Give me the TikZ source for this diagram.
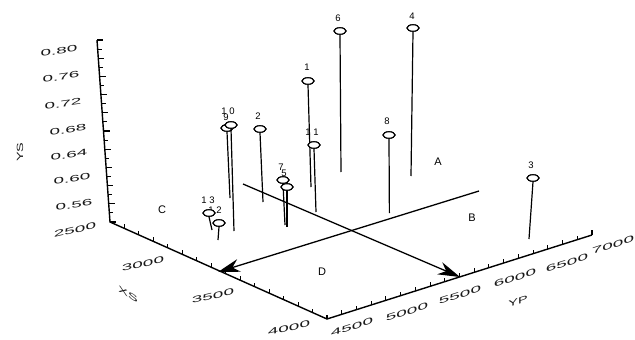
\documentclass[tikz,border=0pt]{standalone}
\usepackage{fontspec}
\setmainfont{Liberation Sans}
\newfontfamily\widefont[FakeStretch=2.1]{Liberation Sans}
\newfontfamily\axtitfont[FakeStretch=1.6]{Liberation Sans}
\usetikzlibrary{arrows.meta,shapes.geometric,calc}
\begin{document}
\begin{tikzpicture}[x=1pt,y=-1pt,
  axis/.style={line width=1.4pt},
  tk/.style={line width=1.1pt},
  stem/.style={line width=1.2pt},
  pin/.style={ellipse,draw,line width=1.1pt,fill=white,minimum width=12pt,minimum height=6.5pt,inner sep=0pt},
  num/.style={font=\fontsize{9.5}{9.5}\selectfont,inner sep=0pt},
  reg/.style={font=\fontsize{11}{11}\selectfont,inner sep=0pt},
  ticklab/.style={font=\widefont\fontsize{9}{9}\selectfont,inner sep=0pt,text=black!90},
  axtitle/.style={font=\axtitfont\fontsize{9}{9}\selectfont,inner sep=0pt,text=black!90},
  arr/.style={line width=1.3pt,-{Stealth[length=22pt,width=13pt,inset=7pt]}}
]
\useasboundingbox (0,0) rectangle (635,340);
% axes
\coordinate (zt) at (97,40);
\coordinate (o) at (110,222);
\coordinate (c) at (327,319);
\coordinate (r) at (592,235);
\draw[axis] (zt) -- (o) -- (c) -- (r);
\foreach \i in {0,...,20}{
  \pgfmathsetmacro{\len}{ifthenelse(mod(\i,2)==0,6,4)}
  \draw[tk] ($(zt)!\i/20!(o)$) -- ++(\len,0);
}
\foreach \i in {1,...,15}{
  \draw[tk] ($(o)!\i/15!(c)$) -- ++(0,-4);
}
\foreach \i in {1,...,18}{
  \draw[tk] ($(c)!\i/18!(r)$) -- ++(0,-4);
}
\draw[tk] (r) -- ++(0,-5);
% z labels
\node[ticklab,yslant=0.14] (z80) at (59,51) {0.80};
\node[ticklab,yslant=0.14] (z76) at (61,77) {0.76};
\node[ticklab,yslant=0.14] (z72) at (63,104) {0.72};
\node[ticklab,yslant=0.14] (z68) at (68,130) {0.68};
\node[ticklab,yslant=0.14] (z64) at (69,155) {0.64};
\node[ticklab,yslant=0.14] (z60) at (72,179) {0.60};
\node[ticklab,yslant=0.14] (z56) at (74,205) {0.56};
\node[axtitle,rotate=90] (zt1) at (20,152) {YS};
% left axis labels
\node[ticklab,yslant=0.23] (x1) at (75,230) {2500};
\node[ticklab,yslant=0.23] (x2) at (143,264) {3000};
\node[ticklab,yslant=0.23] (x3) at (213,296) {3500};
\node[ticklab,yslant=0.23] (x4) at (289,328) {4000};
\node[axtitle,yslant=-0.6] (xt) at (128,294) {XS};
% right axis labels
\node[ticklab,yslant=0.32] (y1) at (352,327) {4500};
\node[ticklab,yslant=0.32] (y2) at (407,312) {5000};
\node[ticklab,yslant=0.32] (y3) at (460,295) {5500};
\node[ticklab,yslant=0.32] (y4) at (515,278) {6000};
\node[ticklab,yslant=0.32] (y5) at (567,263) {6500};
\node[ticklab,yslant=0.32] (y6) at (613,245) {7000};
\node[axtitle,yslant=0.32] (yt) at (518,301) {YP};
% region lines
\coordinate (s1) at (243,184);
\coordinate (e1) at (460,277);
\coordinate (s2) at (479,191);
\coordinate (e2) at (218,272);
\draw[arr] (s1) -- (e1);
\draw[arr] (s2) -- (e2);
\node[reg] (A) at (438,162) {A};
\node[reg] (B) at (472,218) {B};
\node[reg] (C) at (162,210) {C};
\node[reg] (D) at (322,272) {D};
% pins
\foreach \n/\lab/\ex/\ey/\bx/\by/\lx/\ly in {
  6/6/340/31/341/172/338/18,
  4/4/413/28/411/176/412/16,
  1/1/308/81/311/187/307/67,
  11/1 1/314/145/316/212/312/132,
  8/8/389/135/389.4/213/387/121,
  3/3/533/178/529/239/531/165,
  2/2/260/129/263/202/258/116,
  9/9/227/128/230/198/226/117,
  10/1 0/231/125/234/231/228/111,
  7/7/283/180/285/225/281/167,
  5/5/287/187/287/227/284/173,
  12/1 2/219/223/218/240/215/210,
  13/1 3/209/213/212/230/208/200}{
  \coordinate (b\n) at (\bx,\by);
  \node[num] (l\n) at (\lx,\ly) {\lab};
  \node[pin] (p\n) at (\ex,\ey) {};
  \draw[stem] (p\n.south) -- (b\n);
  \node[pin] at (p\n) {};
}
\end{tikzpicture}
\end{document}
